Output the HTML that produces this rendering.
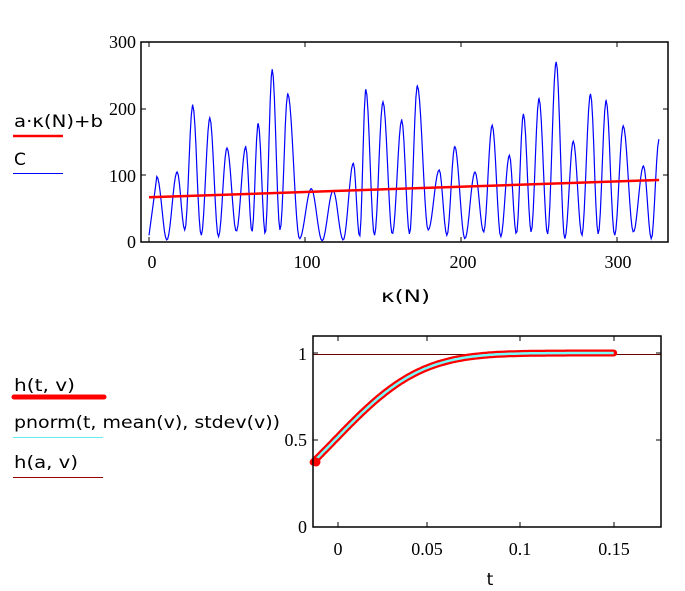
<!DOCTYPE html>
<html><head><meta charset="utf-8"><style>
body{margin:0;background:#fff;width:685px;height:591px;overflow:hidden}
svg{position:absolute;left:0;top:0}
.s{font-family:"Liberation Serif",serif;font-size:18px;fill:#000}
.a{font-family:"DejaVu Sans","Liberation Sans",sans-serif;font-size:17px;fill:#000}
</style></head><body>
<svg id="sv" width="685" height="591" xmlns="http://www.w3.org/2000/svg">
<text class="a" x="14" y="127" textLength="89" lengthAdjust="spacingAndGlyphs">a·κ(N)+b</text>
<line x1="13" y1="136" x2="63" y2="136" stroke="#f00" stroke-width="2.5"/>
<text class="a" x="14" y="165">C</text>
<line x1="13" y1="173.5" x2="63" y2="173.5" stroke="#00f" stroke-width="1"/>
<g id="top"></g>
<rect x="141" y="42" width="527" height="200" fill="none" stroke="#000" stroke-width="1.5"/>
<g class="s" text-anchor="end">
<text x="136" y="48">300</text><text x="136" y="115">200</text><text x="136" y="182">100</text><text x="136" y="248">0</text>
</g>
<g class="s" text-anchor="middle">
<text x="152" y="268">0</text><text x="307" y="268">100</text><text x="463" y="268">200</text><text x="618" y="268">300</text>
</g>
<text class="a" x="381" y="302" textLength="49" lengthAdjust="spacingAndGlyphs">κ(N)</text>
<text class="a" x="14" y="391" textLength="61" lengthAdjust="spacingAndGlyphs">h(t, v)</text>
<line x1="14" y1="397" x2="104" y2="397" stroke="#f00" stroke-width="5" stroke-linecap="round"/>
<text class="a" x="14" y="428" textLength="266" lengthAdjust="spacingAndGlyphs">pnorm(t, mean(v), stdev(v))</text>
<line x1="13" y1="437.5" x2="103" y2="437.5" stroke="#6ee" stroke-width="1"/>
<text class="a" x="14" y="468" textLength="64" lengthAdjust="spacingAndGlyphs">h(a, v)</text>
<line x1="13" y1="477.5" x2="103" y2="477.5" stroke="#900" stroke-width="1"/>
<line x1="313" y1="354.5" x2="661" y2="354.5" stroke="#600" stroke-width="1"/>
<g id="bot"></g>
<rect x="313" y="336" width="348" height="191" fill="none" stroke="#000" stroke-width="1.5"/>
<g class="s" text-anchor="end">
<text x="307" y="360">1</text><text x="307" y="446">0.5</text><text x="307" y="533">0</text>
</g>
<g class="s" text-anchor="middle">
<text x="338" y="555">0</text><text x="427" y="555">0.05</text><text x="520" y="555">0.1</text><text x="614" y="555">0.15</text>
</g>
<text class="a" x="490" y="585" text-anchor="middle">t</text>
</svg>
<script>
var NS="http://www.w3.org/2000/svg";
function el(p,t,a){var e=document.createElementNS(NS,t);for(var k in a)e.setAttribute(k,a[k]);p.appendChild(e);return e;}
var top_=document.getElementById('top'),bot=document.getElementById('bot');
[149,305,461,617].forEach(function(x){el(top_,'line',{x1:x,y1:242,x2:x,y2:237,stroke:'#000'});el(top_,'line',{x1:x,y1:42,x2:x,y2:47,stroke:'#000'});});
[42,109,175,242].forEach(function(y){el(top_,'line',{x1:141,y1:y,x2:146,y2:y,stroke:'#000'});el(top_,'line',{x1:668,y1:y,x2:663,y2:y,stroke:'#000'});});
var pk=[[0,10],[5,98],[18,105],[28,205],[39,186],[50,141],[62,143],[70,178],[79,259],[89,222],[104,80],[118,77],[131,118],[139,229],[150,210],[162,183],[172,234],[186,108],[196,143],[209,105],[220,175],[231,130],[240,192],[250,215],[261,270],[272,151],[283,222],[293,212],[304,174],[317,114],[327,154]];
var tr=[0,3,18,10,8,16,15,12,18,5,2,3,8,10,12,12,18,10,5,15,8,12,15,12,5,10,12,10,15,5];
var pts=[];
function X(x){return 149+x*1.56}function Y(v){return 242-v*0.667}
for(var i=0;i<pk.length-1;i++){var a=pk[i],b=pk[i+1],m=(a[0]+b[0])/2,t0=tr[i]||5;
 for(var x=a[0];x<b[0];x+=0.7){var v;if(x<m){var f=(x-a[0])/(m-a[0]);v=t0+(a[1]-t0)*(0.5+0.5*Math.cos(Math.PI*f));}else{var f=(x-m)/(b[0]-m);v=t0+(b[1]-t0)*(0.5-0.5*Math.cos(Math.PI*f));}
 if(i==0){v=a[1]+(b[1]-a[1])*(x-a[0])/(b[0]-a[0]);}
 pts.push(X(x).toFixed(1)+','+Y(v).toFixed(1));}}
pts.push(X(327)+','+Y(154));
el(top_,'polyline',{points:pts.join(' '),fill:'none',stroke:'#00f','stroke-width':1.2});
el(top_,'line',{x1:X(0),y1:Y(67),x2:X(327),y2:Y(93),stroke:'#f00','stroke-width':2.5});
[338,427,520,614].forEach(function(x){el(bot,'line',{x1:x,y1:527,x2:x,y2:522,stroke:'#000'});el(bot,'line',{x1:x,y1:336,x2:x,y2:341,stroke:'#000'});});
[353,440,527].forEach(function(y){el(bot,'line',{x1:313,y1:y,x2:318,y2:y,stroke:'#000'});el(bot,'line',{x1:661,y1:y,x2:656,y2:y,stroke:'#000'});});
function erf(x){var s=x<0?-1:1;x=Math.abs(x);var t=1/(1+0.3275911*x);var y=1-(((((1.061405429*t-1.453152027)*t)+1.421413741)*t-0.284496736)*t+0.254829592)*t*Math.exp(-x*x);return s*y;}
function cdf(t){return 0.5*(1+erf((t-0.0005)/0.036/Math.SQRT2));}
var bp=[];for(var t=-0.0112;t<=0.1501;t+=0.001){bp.push((334+t*1867).toFixed(1)+','+(527-cdf(t)*174).toFixed(1));}
el(bot,'polyline',{points:bp.join(' '),fill:'none',stroke:'#f00','stroke-width':7,'stroke-linecap':'round','stroke-linejoin':'round'});
el(bot,'polyline',{points:bp.join(' '),fill:'none',stroke:'#7ff','stroke-width':2.5});
el(bot,'circle',{cx:316,cy:462,r:4.5,fill:'#f00'});
</script>
</body></html>
